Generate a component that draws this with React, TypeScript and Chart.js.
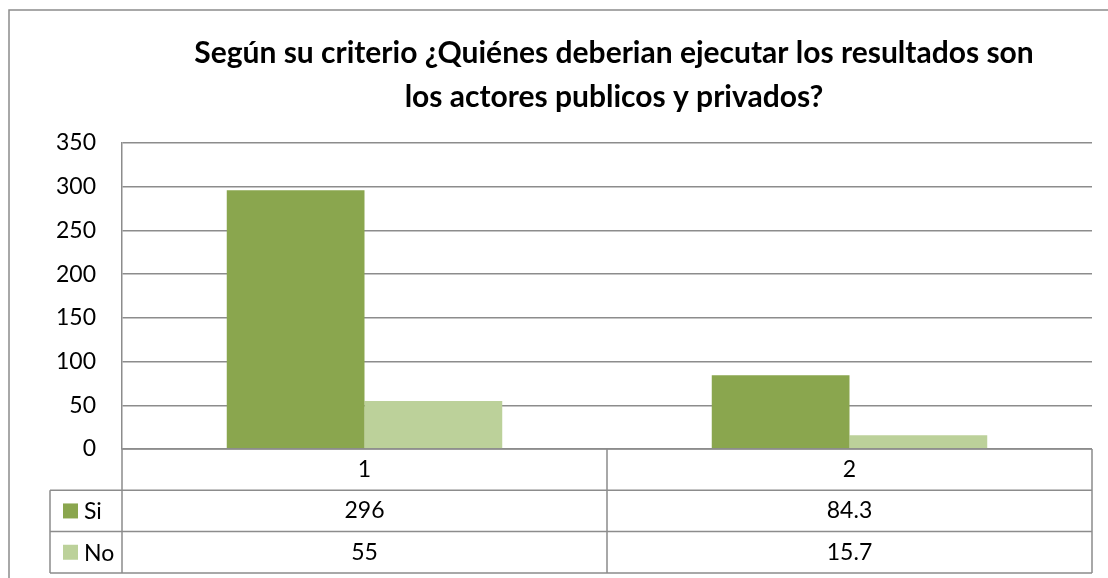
import React, { useEffect, useRef } from "react";
import { Chart, registerables } from "chart.js";

Chart.register(...registerables);

const titleLines = [
  "Según su criterio ¿Quiénes deberian ejecutar los resultados son",
  "los actores publicos y privados?",
];
const categories = ["1", "2"];
const seriesNames = ["Si", "No"];
const siValues = [296, 84.3];
const noValues = [55, 15.7];
const siLabels = ["296", "84.3"];
const noLabels = ["55", "15.7"];
const yTicks = { min: 0, max: 350, step: 50 };

const GRID = "#8c8c8c";
const SI_COLOR = "#8aa64e";
const NO_COLOR = "#bcd19a";
const FONT = "Lato, 'Open Sans', sans-serif";

const framePlugin = {
  id: "frame",
  beforeDraw(chart: any) {
    const ctx = chart.ctx;
    ctx.save();
    ctx.fillStyle = "#ffffff";
    ctx.fillRect(0, 0, chart.width, chart.height);
    ctx.strokeStyle = GRID;
    ctx.lineWidth = 1.5;
    ctx.strokeRect(9, 10, chart.width + 50, chart.height + 50);
    ctx.restore();
  },
};

const titlePlugin = {
  id: "customTitle",
  afterDraw(chart: any) {
    const ctx = chart.ctx;
    ctx.save();
    ctx.fillStyle = "#000000";
    ctx.font = `bold 30px ${FONT}`;
    ctx.textAlign = "center";
    ctx.textBaseline = "middle";
    titleLines.forEach((line, i) => {
      ctx.fillText(line, 614, 53 + i * 44);
    });
    ctx.restore();
  },
};

const tablePlugin = {
  id: "dataTable",
  afterDraw(chart: any) {
    const ctx = chart.ctx;
    const area = chart.chartArea;
    const xs = chart.scales.x;
    const top = area.bottom;
    const rowH = 41.3;
    const legendLeft = 50;
    const rows = [top, top + rowH, top + 2 * rowH, top + 3 * rowH];
    ctx.save();
    ctx.strokeStyle = GRID;
    ctx.lineWidth = 1.5;
    ctx.beginPath();
    ctx.moveTo(area.left, rows[0]);
    ctx.lineTo(area.right, rows[0]);
    for (let i = 1; i < rows.length; i++) {
      ctx.moveTo(legendLeft, rows[i]);
      ctx.lineTo(area.right, rows[i]);
    }
    ctx.moveTo(legendLeft, rows[1]);
    ctx.lineTo(legendLeft, rows[3]);
    ctx.moveTo(area.left, rows[0]);
    ctx.lineTo(area.left, rows[3]);
    for (let i = 0; i < categories.length - 1; i++) {
      const b = (xs.getPixelForValue(i) + xs.getPixelForValue(i + 1)) / 2;
      ctx.moveTo(b, rows[0]);
      ctx.lineTo(b, rows[3]);
    }
    ctx.moveTo(area.right, rows[0]);
    ctx.lineTo(area.right, rows[3]);
    ctx.stroke();

    ctx.fillStyle = "#000000";
    ctx.font = `23px ${FONT}`;
    ctx.textBaseline = "middle";
    ctx.textAlign = "center";
    const mid = (r: number) => (rows[r] + rows[r + 1]) / 2;
    categories.forEach((c, i) => {
      const x = xs.getPixelForValue(i);
      ctx.fillText(c, x, mid(0));
      ctx.fillText(siLabels[i], x, mid(1));
      ctx.fillText(noLabels[i], x, mid(2));
    });
    const colors = [SI_COLOR, NO_COLOR];
    seriesNames.forEach((n, i) => {
      const y = mid(i + 1);
      ctx.fillStyle = colors[i];
      ctx.fillRect(63, y - 7.5, 15, 15);
      ctx.fillStyle = "#000000";
      ctx.textAlign = "left";
      ctx.fillText(n, 84, y + 1);
    });
    ctx.restore();
  },
};

export default function App() {
  const ref = useRef<HTMLCanvasElement | null>(null);
  useEffect(() => {
    if (!ref.current) return;
    const chart = new Chart(ref.current, {
      type: "bar",
      data: {
        labels: categories,
        datasets: [
          {
            label: seriesNames[0],
            data: siValues,
            backgroundColor: SI_COLOR,
            barPercentage: 1,
            categoryPercentage: 0.568,
          },
          {
            label: seriesNames[1],
            data: noValues,
            backgroundColor: NO_COLOR,
            barPercentage: 1,
            categoryPercentage: 0.568,
          },
        ],
      },
      options: {
        animation: false,
        responsive: false,
        layout: { padding: { top: 143, bottom: 129, right: 16, left: 0 } },
        plugins: {
          legend: { display: false },
          title: { display: false },
          tooltip: { enabled: false },
        },
        scales: {
          x: { display: false },
          y: {
            min: yTicks.min,
            max: yTicks.max,
            ticks: {
              stepSize: yTicks.step,
              padding: 26,
              color: "#000000",
              font: { family: FONT, size: 23 },
            },
            grid: { color: GRID, lineWidth: 1.5, drawTicks: false },
            border: { display: true, color: GRID, width: 1.5 },
            afterFit: (axis: any) => {
              axis.width = 122;
            },
          },
        },
      },
      plugins: [framePlugin, titlePlugin, tablePlugin],
    });
    return () => chart.destroy();
  }, []);
  return (
    <div style={{ position: "absolute", left: 0, top: 0, width: 1108, height: 578 }}>
      <canvas ref={ref} width={1108} height={578} style={{ width: 1108, height: 578, display: "block" }} />
    </div>
  );
}
